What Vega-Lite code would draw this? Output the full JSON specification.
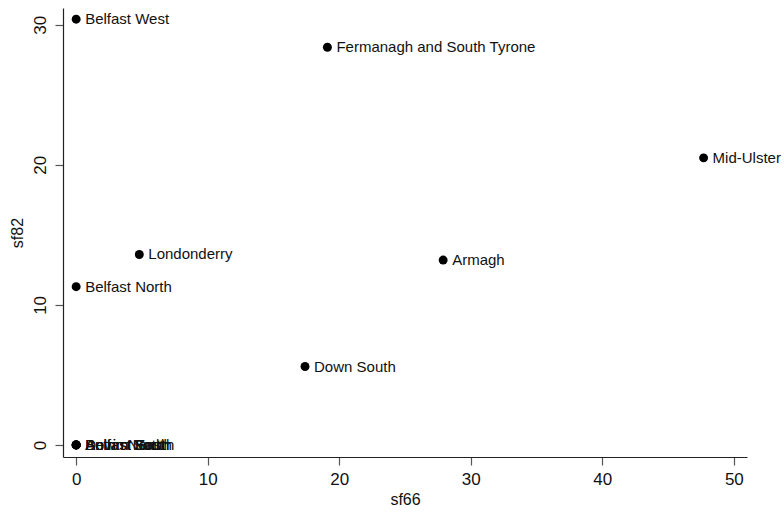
{
  "$schema": "https://vega.github.io/schema/vega-lite/v6.json",
  "autosize": "none",
  "width": 684,
  "height": 449,
  "padding": {"left": 63, "top": 8, "right": 37, "bottom": 55},
  "background": "white",
  "config": {
    "view": {"stroke": null},
    "font": "Liberation Sans",
    "axis": {
      "grid": false,
      "domainColor": "#222222",
      "domainWidth": 1.2,
      "tickColor": "#555555",
      "tickSize": 8,
      "tickWidth": 1.2,
      "labelColor": "#111111",
      "labelFont": "Liberation Sans",
      "labelFontSize": 17,
      "titleFont": "Liberation Sans",
      "titleFontSize": 16,
      "titleFontWeight": "normal",
      "titleColor": "#111111"
    }
  },
  "data": {
    "values": [
      {"name": "Belfast West", "sf66": 0, "sf82": 30.4},
      {"name": "Fermanagh and South Tyrone", "sf66": 19.1, "sf82": 28.4},
      {"name": "Mid-Ulster", "sf66": 47.7, "sf82": 20.5},
      {"name": "Londonderry", "sf66": 4.8, "sf82": 13.6},
      {"name": "Armagh", "sf66": 27.9, "sf82": 13.2},
      {"name": "Belfast North", "sf66": 0, "sf82": 11.3},
      {"name": "Down South", "sf66": 17.4, "sf82": 5.6},
      {"name": "Antrim North", "sf66": 0, "sf82": 0},
      {"name": "Antrim South", "sf66": 0, "sf82": 0},
      {"name": "Belfast East", "sf66": 0, "sf82": 0},
      {"name": "Belfast South", "sf66": 0, "sf82": 0},
      {"name": "Down North", "sf66": 0, "sf82": 0}
    ]
  },
  "encoding": {
    "x": {
      "field": "sf66", "type": "quantitative",
      "scale": {"domain": [-1, 51], "nice": false, "zero": false},
      "axis": {"values": [0, 10, 20, 30, 40, 50], "title": "sf66", "labelPadding": 6, "titlePadding": 4}
    },
    "y": {
      "field": "sf82", "type": "quantitative",
      "scale": {"domain": [-0.86, 31.2], "nice": false, "zero": false},
      "axis": {"values": [0, 10, 20, 30], "title": "sf82", "labelAngle": -90, "labelAlign": "center", "labelBaseline": "bottom", "labelPadding": 6, "titlePadding": 6}
    }
  },
  "layer": [
    {"mark": {"type": "circle", "size": 80, "color": "black", "opacity": 1}},
    {
      "mark": {"type": "text", "align": "left", "baseline": "middle", "dx": 9, "fontSize": 15, "color": "#111111", "font": "Liberation Sans"},
      "encoding": {"text": {"field": "name"}}
    }
  ]
}
